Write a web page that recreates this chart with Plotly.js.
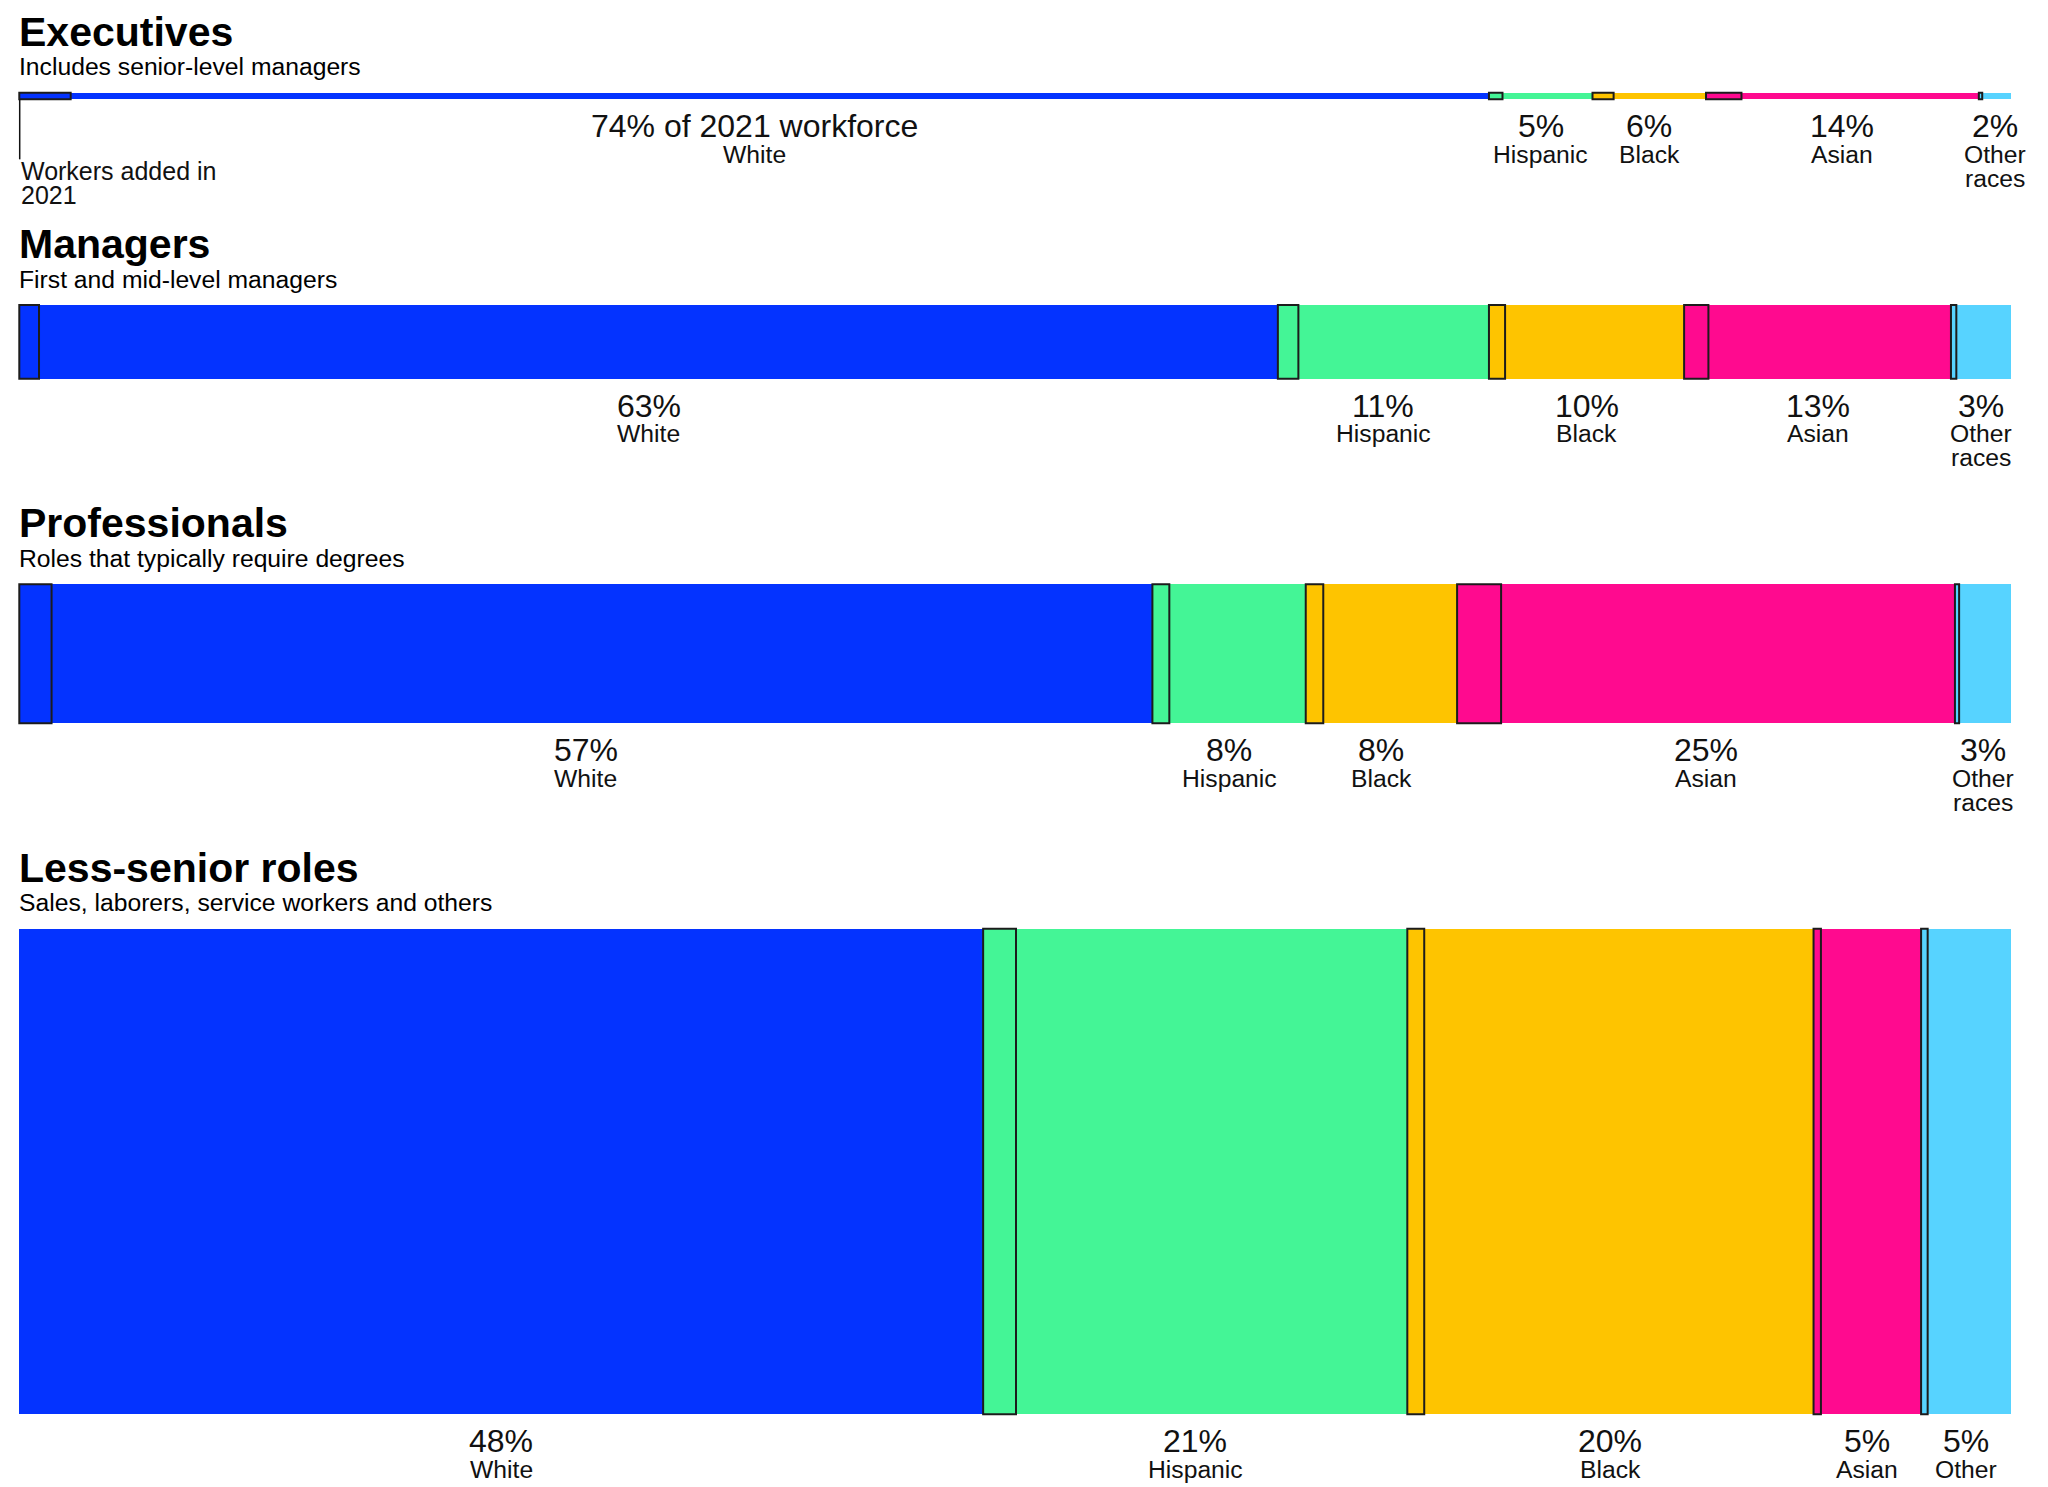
<!DOCTYPE html>
<html>
<head>
<meta charset="utf-8">
<script src="https://cdn.plot.ly/plotly-3.0.1.min.js"></script>
<style>
  html, body { margin: 0; padding: 0; background: #ffffff; overflow: hidden; }
  #chart { width: 2048px; height: 1487px; }
</style>
</head>
<body>
<div id="chart"></div>
<script>
// ---------------- DATA ----------------
const roles = ['Executives', 'Managers', 'Professionals', 'Less-senior roles'];
const roleSubtitles = [
  'Includes senior-level managers',
  'First and mid-level managers',
  'Roles that typically require degrees',
  'Sales, laborers, service workers and others'
];
// share of the total 2021 workforce in each role (sets bar thickness)
const workforceShare = [0.94, 10.46, 19.72, 68.88];

const races = ['White', 'Hispanic', 'Black', 'Asian', 'Other races'];

// share (%) of each role's 2021 workforce, by race (Executives, Managers, Professionals, Less-senior)
const whiteShare    = [73.8, 63.2, 56.9, 48.4];
const hispanicShare = [5.2, 10.6, 7.7, 21.3];
const blackShare    = [5.7, 9.8, 7.6, 20.4];
const asianShare    = [13.7, 13.4, 25.0, 5.4];
const otherShare    = [1.6, 3.0, 2.8, 4.5];

// workers added in 2021, as % of each role's workforce, by race
const whiteAdded    = [2.58, 0.99, 1.62, 0];
const hispanicAdded = [0.68, 1.03, 0.85, 1.65];
const blackAdded    = [1.06, 0.81, 0.88, 0.85];
const asianAdded    = [1.78, 1.22, 2.21, 0.37];
const otherAdded    = [0.17, 0.27, 0.21, 0.33];

// ---------------- STYLE / LAYOUT ----------------
const COLORS = ['#0433ff', '#44f596', '#fec400', '#ff0a8f', '#57d3ff'];
const BOX_LINE = '#1c1c1c';
const FONT = 'Liberation Sans, Arial, Helvetica, sans-serif';
const W = 2048, H = 1487;
const LEFT_PX = 19.3, RIGHT_PX = 2010.7;
const FIRST_TOP = 92.7, GAP = 205.6, PX_PER_SHARE = 7.048;

const shareByRace = [whiteShare, hispanicShare, blackShare, asianShare, otherShare];
const addedByRace = [whiteAdded, hispanicAdded, blackAdded, asianAdded, otherAdded];

// x axis: 0..100 % of the role maps onto LEFT_PX..RIGHT_PX
const pxPerUnit = (RIGHT_PX - LEFT_PX) / 100;
const xRange = [-LEFT_PX / pxPerUnit, 100 + (W - RIGHT_PX) / pxPerUnit];

// vertical layout of the rows (y axis in pixels, reversed)
const thick = workforceShare.map(s => s * PX_PER_SHARE);
const tops = [];
let cursor = FIRST_TOP;
thick.forEach((t) => { tops.push(cursor); cursor += t + GAP; });
const bottoms = tops.map((t, i) => t + thick[i]);
const centers = tops.map((t, i) => t + thick[i] / 2);

// cumulative starts and normalised widths
const starts = shareByRace.map(() => []);
const widths = shareByRace.map(() => []);
roles.forEach((r, i) => {
  const total = shareByRace.reduce((a, arr) => a + arr[i], 0);
  let acc = 0;
  shareByRace.forEach((arr, k) => {
    starts[k][i] = acc * 100 / total;
    widths[k][i] = arr[i] * 100 / total;
    acc += arr[i];
  });
});

const traces = [];
shareByRace.forEach((arr, k) => {
  traces.push({
    type: 'bar', orientation: 'h',
    name: races[k],
    x: widths[k], base: starts[k], y: centers, width: thick,
    marker: { color: COLORS[k], line: { width: 0 } },
    hoverinfo: 'skip', showlegend: false
  });
});

// workers added in 2021: outlined boxes at the start of each segment
const bx = [], bbase = [], by = [], bw = [], bc = [];
addedByRace.forEach((arr, k) => {
  arr.forEach((v, i) => {
    if (v > 0) {
      bx.push(v); bbase.push(starts[k][i]); by.push(centers[i]); bw.push(thick[i]); bc.push(COLORS[k]);
    }
  });
});
traces.push({
  type: 'bar', orientation: 'h', name: 'Workers added in 2021',
  x: bx, base: bbase, y: by, width: bw,
  marker: { color: bc, line: { width: 2, color: BOX_LINE } },
  hoverinfo: 'skip', showlegend: false
});

// ---------------- TEXT ----------------
const ASC = 0.905;
function textAt(text, x, baseline, size, opts) {
  opts = opts || {};
  return Object.assign({
    xref: 'x', yref: 'y', x: x,
    y: baseline - ASC * size,
    yanchor: 'top', xanchor: 'center',
    borderpad: 0, borderwidth: 0,
    text: text, showarrow: false,
    font: { family: FONT, size: size, color: opts.color || '#000' }
  }, opts.extra || {});
}

const annotations = [];
const TITLE_SIZE = 41, SUB_SIZE = 24.7, PCT_SIZE = 32, CAT_SIZE = 24.7;
roles.forEach((r, i) => {
  annotations.push(textAt('<b>' + r + '</b>', 0, tops[i] - 47, TITLE_SIZE, { extra: { xanchor: 'left' } }));
  annotations.push(textAt(roleSubtitles[i], 0, tops[i] - 17, SUB_SIZE, { extra: { xanchor: 'left' } }));
  races.forEach((race, k) => {
    const cx = starts[k][i] + widths[k][i] / 2;
    let pct = Math.round(shareByRace[k][i]) + '%';
    if (i === 0 && k === 0) pct += ' of 2021 workforce';
    annotations.push(textAt(pct, cx, bottoms[i] + 38, PCT_SIZE, { color: '#111' }));
    const words = race === 'Other races' ? ['Other', 'races'] : [race];
    words.forEach((w, j) => {
      const baseline = bottoms[i] + 64 + j * 24;
      // lines that would fall below the bottom edge of the page are not shown
      if (baseline + 5 <= H) {
        annotations.push(textAt(w, cx, baseline, CAT_SIZE, { color: '#111' }));
      }
    });
  });
});
// key for the outlined boxes
annotations.push(textAt('Workers added in', 0.1, bottoms[0] + 80, 25, { color: '#111', extra: { xanchor: 'left' } }));
annotations.push(textAt('2021', 0.1, bottoms[0] + 104, 25, { color: '#111', extra: { xanchor: 'left' } }));

const shapes = [{
  type: 'line', xref: 'x', yref: 'y',
  x0: 0.02, x1: 0.02, y0: bottoms[0], y1: bottoms[0] + 60,
  line: { color: '#111', width: 1.5 }
}];

const layout = {
  width: W, height: H,
  margin: { l: 0, r: 0, t: 0, b: 0, pad: 0 },
  paper_bgcolor: '#ffffff', plot_bgcolor: '#ffffff',
  barmode: 'overlay',
  bargap: 0,
  showlegend: false,
  xaxis: { range: xRange, visible: false, fixedrange: true },
  yaxis: { range: [H, 0], visible: false, fixedrange: true },
  annotations: annotations,
  shapes: shapes,
  font: { family: FONT }
};

Plotly.newPlot('chart', traces, layout, { displayModeBar: false, staticPlot: true });
</script>
</body>
</html>
